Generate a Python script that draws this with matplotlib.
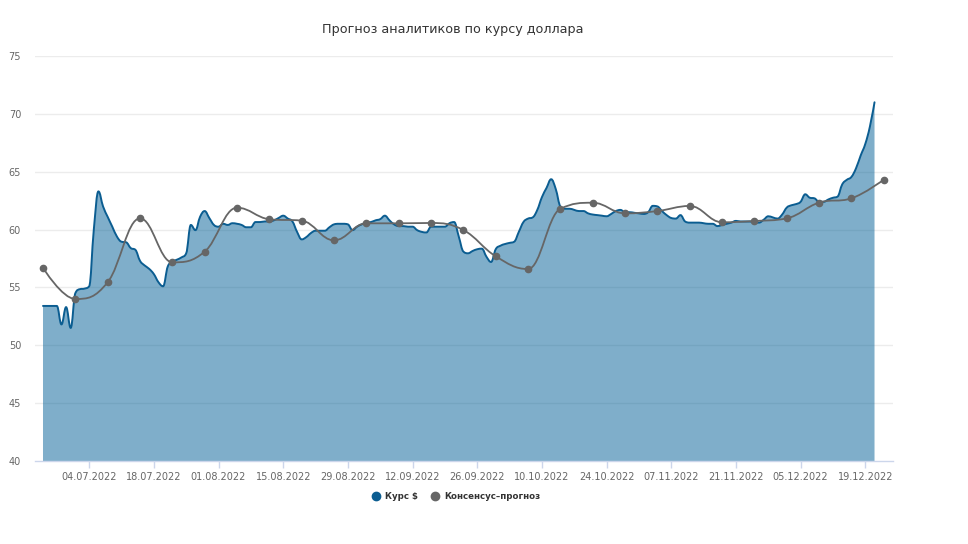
import matplotlib
matplotlib.use("Agg")
import matplotlib.pyplot as plt
import matplotlib.dates as mdates
from matplotlib.path import Path
from matplotlib.patches import PathPatch
from matplotlib.lines import Line2D
import numpy as np
import pandas as pd

# ---------------- data ----------------
title = "Прогноз аналитиков по курсу доллара"
series_names = ["Курс $", "Консенсус–прогноз"]

rate_start, rate_end = "2022-06-24", "2022-12-21"
rate_values = [
    # 24.06 - 30.06
    53.4, 53.4, 53.4, 53.4, 51.8, 53.3, 51.5,
    # July
    54.5, 54.85, 54.9, 55.1, 60.0, 63.3, 62.0, 61.1, 60.25, 59.4, 58.95, 58.9, 58.4, 58.25, 57.3, 56.9,
    56.6, 56.15, 55.45, 55.1, 56.8, 57.2, 57.4, 57.6, 57.95, 60.4, 59.95, 61.1, 61.6, 61.0, 60.4,
    # August
    60.25, 60.5, 60.4, 60.55, 60.5, 60.4, 60.2, 60.2, 60.65, 60.65, 60.7, 60.7, 60.8, 61.0, 61.2, 60.95,
    60.7, 59.8, 59.15, 59.35, 59.7, 59.9, 59.9, 59.9, 60.2, 60.45, 60.5, 60.5, 60.45, 59.95, 60.25,
    # September
    60.45, 60.6, 60.65, 60.8, 60.9, 61.2, 60.8, 60.45, 60.3, 60.3, 60.25, 60.25, 59.95, 59.8, 59.75,
    60.25, 60.25, 60.25, 60.25, 60.55, 60.65, 59.4, 58.1, 57.95, 58.15, 58.3, 58.35, 57.65, 57.2, 58.3,
    # October
    58.6, 58.75, 58.85, 58.95, 59.8, 60.65, 60.95, 61.05, 61.7, 62.8, 63.6, 64.35, 63.5, 62.0, 61.8,
    61.8, 61.7, 61.6, 61.6, 61.4, 61.3, 61.25, 61.2, 61.15, 61.35, 61.6, 61.7, 61.5, 61.5, 61.45, 61.4,
    # November
    61.35, 61.5, 62.05, 62.0, 61.6, 61.25, 61.0, 60.95, 61.25, 60.7, 60.6, 60.6, 60.6, 60.55, 60.5,
    60.5, 60.3, 60.4, 60.5, 60.6, 60.75, 60.7, 60.7, 60.7, 60.6, 60.6, 60.85, 61.15, 61.05, 60.95,
    # 01.12 - 21.12
    61.3, 61.9, 62.1, 62.2, 62.4, 63.05, 62.75, 62.7, 62.4, 62.4, 62.6, 62.75, 62.85, 63.9, 64.3,
    64.55, 65.3, 66.4, 67.4, 68.9, 71.0,
]

consensus_dates = [
    "24.06.2022", "01.07.2022", "08.07.2022", "15.07.2022", "22.07.2022", "29.07.2022",
    "05.08.2022", "12.08.2022", "19.08.2022", "26.08.2022", "02.09.2022", "09.09.2022",
    "16.09.2022", "23.09.2022", "30.09.2022", "07.10.2022", "14.10.2022", "21.10.2022",
    "28.10.2022", "04.11.2022", "11.11.2022", "18.11.2022", "25.11.2022", "02.12.2022",
    "09.12.2022", "16.12.2022", "23.12.2022",
]
consensus_values = [
    56.7, 54.0, 55.45, 60.97, 57.17, 58.09, 61.89, 60.89, 60.77, 59.07, 60.54, 60.54,
    60.57, 59.96, 57.69, 56.59, 61.8, 62.32, 61.4, 61.6, 62.04, 60.63, 60.74, 60.97,
    62.33, 62.7, 64.31,
]

tick_labels = ["04.07.2022", "18.07.2022", "01.08.2022", "15.08.2022", "29.08.2022",
               "12.09.2022", "26.09.2022", "10.10.2022", "24.10.2022", "07.11.2022",
               "21.11.2022", "05.12.2022", "19.12.2022"]
y_ticks = [40, 45, 50, 55, 60, 65, 70, 75]

# ---------------- helpers ----------------
def spline_path(xs, ys, smoothing=1.5):
    """Highcharts-like spline as cubic Bezier path."""
    n = len(xs)
    left = [(xs[i], ys[i]) for i in range(n)]
    right = [(xs[i], ys[i]) for i in range(n)]
    denom = smoothing + 1
    for i in range(1, n - 1):
        px, py = xs[i], ys[i]
        lx, ly = xs[i - 1], ys[i - 1]
        nx, ny = xs[i + 1], ys[i + 1]
        lcx = (smoothing * px + lx) / denom
        lcy = (smoothing * py + ly) / denom
        rcx = (smoothing * px + nx) / denom
        rcy = (smoothing * py + ny) / denom
        if rcx != lcx:
            corr = ((rcy - lcy) * (rcx - px)) / (rcx - lcx) + py - rcy
            lcy += corr
            rcy += corr
        if lcy > ly and lcy > py:
            lcy = max(ly, py)
            rcy = 2 * py - lcy
        elif lcy < ly and lcy < py:
            lcy = min(ly, py)
            rcy = 2 * py - lcy
        if rcy > ny and rcy > py:
            rcy = max(ny, py)
            lcy = 2 * py - rcy
        elif rcy < ny and rcy < py:
            rcy = min(ny, py)
            lcy = 2 * py - rcy
        left[i] = (lcx, lcy)
        right[i] = (rcx, rcy)
    verts = [(xs[0], ys[0])]
    codes = [Path.MOVETO]
    for i in range(1, n):
        verts += [right[i - 1], left[i], (xs[i], ys[i])]
        codes += [Path.CURVE4] * 3
    return verts, codes

# ---------------- figure ----------------
W, H = 968, 544
fig = plt.figure(figsize=(W / 100, H / 100), dpi=100)
ax = fig.add_axes([35 / W, (H - 461) / H, (893 - 35) / W, 405 / H])

rate_x = mdates.date2num(pd.date_range(rate_start, rate_end, freq="D"))
cons_x = mdates.date2num(pd.to_datetime(consensus_dates, format="%d.%m.%Y"))
rate_y = np.array(rate_values, dtype=float)
cons_y = np.array(consensus_values, dtype=float)

ymin, ymax = 40, 75
ax.set_ylim(ymin, ymax)
x0 = rate_x[0]
ax.set_xlim(x0 - 1.73, x0 + 184.0)

# grid
for yv in y_ticks[1:]:
    ax.axhline(yv, color="#ececec", lw=1.0, zorder=0)

line_color = "#0b5d91"
fill_rgba = (0.0, 95 / 255, 150 / 255, 0.5)

v, c = spline_path(list(rate_x), list(rate_y))
fill_verts = v + [(rate_x[-1], ymin), (rate_x[0], ymin), (rate_x[0], rate_y[0])]
fill_codes = c + [Path.LINETO, Path.LINETO, Path.CLOSEPOLY]
ax.add_patch(PathPatch(Path(fill_verts, fill_codes), facecolor=fill_rgba,
                       edgecolor="none", zorder=2))
ax.add_patch(PathPatch(Path(v, c), facecolor="none", edgecolor=line_color,
                       lw=1.4, zorder=3, capstyle="round", joinstyle="round"))

v2, c2 = spline_path(list(cons_x), list(cons_y))
ax.add_patch(PathPatch(Path(v2, c2), facecolor="none", edgecolor="#666666",
                       lw=1.3, zorder=4))
ax.plot(cons_x, cons_y, linestyle="none", marker="o", ms=4.5, color="#666666", zorder=5)

# axes styling
for s in ["top", "right", "left"]:
    ax.spines[s].set_visible(False)
ax.spines["bottom"].set_color("#ccd6eb")
ax.spines["bottom"].set_linewidth(1.0)

tick_pos = mdates.date2num(pd.to_datetime(tick_labels, format="%d.%m.%Y"))
ax.set_xticks(tick_pos)
ax.set_xticklabels(tick_labels, fontsize=7, color="#666666")
ax.tick_params(axis="x", length=5, width=1, color="#ccd6eb", pad=3)
ax.set_yticks(y_ticks)
ax.set_yticklabels([str(t) for t in y_ticks], fontsize=7, color="#666666")
ax.tick_params(axis="y", length=0, pad=10)
for lbl in ax.get_yticklabels():
    lbl.set_horizontalalignment("right")

fig.text(452.5 / W, 1 - 30 / H, title, ha="center", va="center", fontsize=9.2,
         color="#333333")

handles = [
    Line2D([], [], linestyle="none", marker="o", ms=6, color=line_color),
    Line2D([], [], linestyle="none", marker="o", ms=6, color="#666666"),
]
leg = fig.legend(handles, series_names, loc="center", bbox_to_anchor=(456 / W, 1 - 496.5 / H),
                 ncol=2, frameon=False, handletextpad=0.5, columnspacing=1.5,
                 prop={"size": 6.2, "weight": "bold"}, handlelength=1.0)
for t in leg.get_texts():
    t.set_color("#333333")

fig.savefig("out.png", dpi=100)
